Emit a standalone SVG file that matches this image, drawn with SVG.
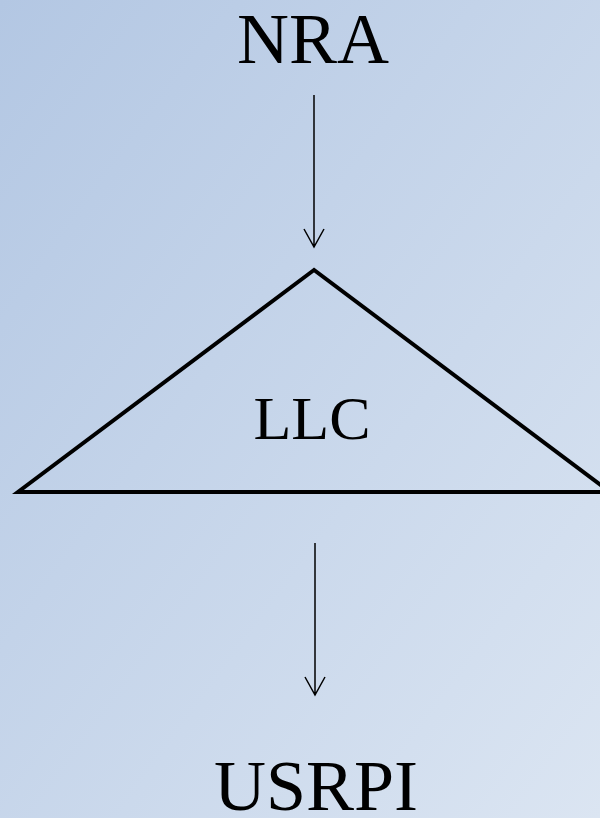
<svg xmlns="http://www.w3.org/2000/svg" width="600" height="818" viewBox="0 0 600 818">
<defs>
<linearGradient id="bg" x1="0" y1="0" x2="1" y2="1">
<stop offset="0" stop-color="#b3c7e3"/>
<stop offset="1" stop-color="#dbe5f2"/>
</linearGradient>
<style>
.t{font-family:"Liberation Serif","Times New Roman",serif;fill:#000;text-anchor:middle}
.c{stroke:#000;stroke-width:1.5;fill:none}
</style>
</defs>
<rect width="600" height="818" fill="url(#bg)"/>
<g id="nra"><text class="t" x="313" y="63" font-size="72">NRA</text></g>
<g id="llc">
<polygon points="314,270 18,492 610,492" fill="none" stroke="#000" stroke-width="4" stroke-linejoin="miter"/>
<text class="t" x="312" y="439" font-size="62">LLC</text>
</g>
<g id="usrpi"><text class="t" x="316" y="810" font-size="72">USRPI</text></g>
<g id="connectors">
<path class="c" d="M314,95V247M304,229L314,247L324,229"/>
<path class="c" d="M315,543V695M305,677L315,695L325,677"/>
</g>
</svg>
